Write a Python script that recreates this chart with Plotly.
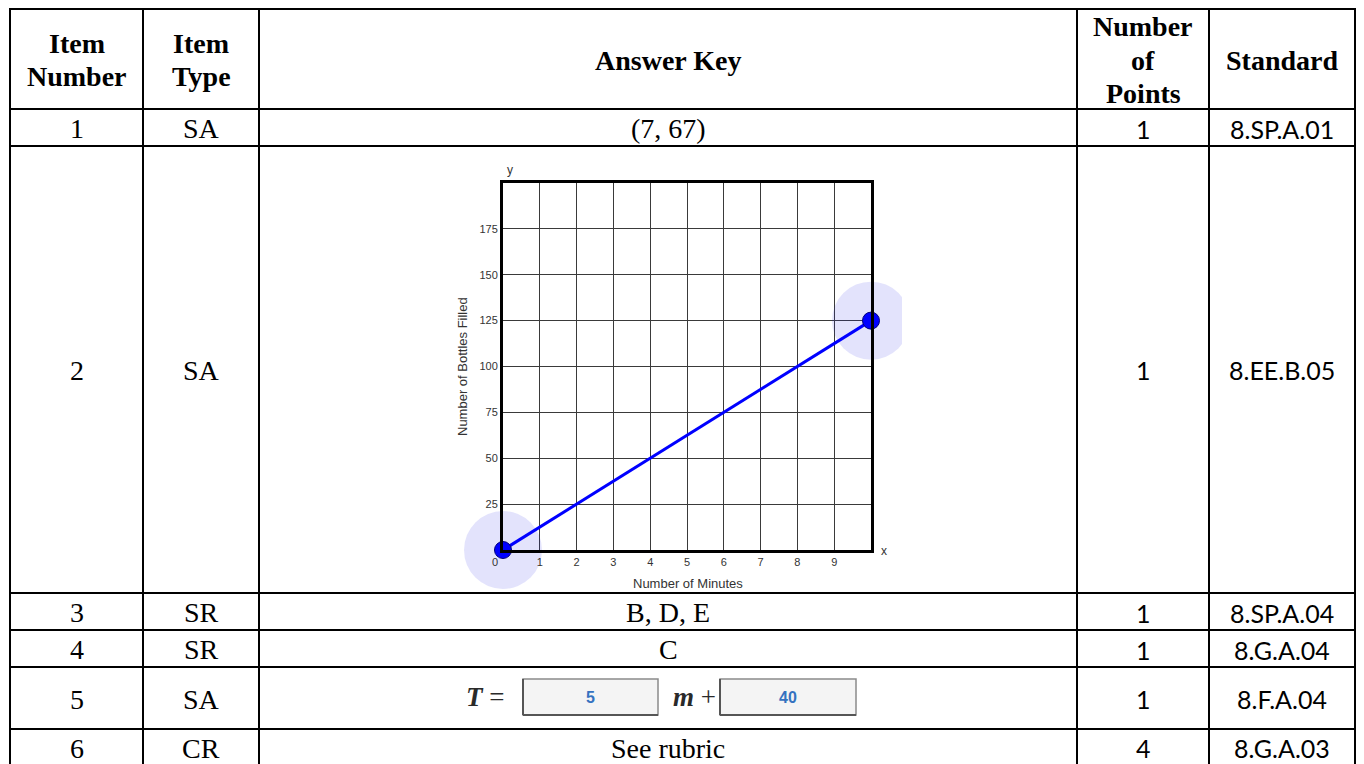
import plotly.graph_objects as go

# the page body adds an 8px margin, so the figure is drawn 8px smaller and shifted
PAGE_W, PAGE_H = 1364, 764
OFF = 8
W, H = PAGE_W - OFF, PAGE_H - OFF

# Table content
headers = [["Item", "Number"], ["Item", "Type"], ["Answer Key"], ["Number", "of", "Points"], ["Standard"]]
item_numbers = ["1", "2", "3", "4", "5", "6"]
item_types = ["SA", "SA", "SR", "SR", "SA", "CR"]
answer_keys = ["(7, 67)", "", "B, D, E", "C", "", "See rubric"]
points = ["1", "1", "1", "1", "1", "4"]
standards = ["8.SP.A.01", "8.EE.B.05", "8.SP.A.04", "8.G.A.04", "8.F.A.04", "8.G.A.03"]

# Item 2 answer graph
minutes = [0, 10]
bottles = [0, 125]
x_tick_vals = [1, 2, 3, 4, 5, 6, 7, 8, 9]
y_tick_vals = [25, 50, 75, 100, 125, 150, 175]

# Item 5 answer boxes
slope_answer = "5"
intercept_answer = "40"

# Table grid (page pixels)
col_edges = [10, 143, 259, 1077, 1209, 1355]
row_edges = [9, 109, 146, 593, 630, 667, 729, 768]

SERIF = "Liberation Serif"
SANS = "Lato"
CHART_FONT = "Liberation Sans"


def px(x):
    return (x - OFF) / W


def py(y):
    return 1 - (y - OFF) / H


fig = go.Figure()

# highlight halos around the plotted points
fig.add_trace(go.Scatter(
    x=minutes, y=bottles, mode="markers",
    marker=dict(size=78, color="rgba(40, 40, 235, 0.13)", line=dict(width=0)),
    cliponaxis=False, hoverinfo="skip", showlegend=False
))
# answer line
fig.add_trace(go.Scatter(
    x=minutes, y=bottles, mode="lines+markers",
    line=dict(color="#0000ff", width=3),
    marker=dict(size=17, color="#0000ff", line=dict(color="#00007a", width=1)),
    cliponaxis=False, showlegend=False
))

shapes = []
annotations = []

# clip the right halo like the source picture
shapes.append(dict(type="rect", xref="paper", yref="paper", layer="above",
                   x0=px(902), x1=px(925), y0=py(370), y1=py(270),
                   fillcolor="white", line=dict(width=0)))

# table lines
for x in col_edges:
    shapes.append(dict(type="line", xref="paper", yref="paper",
                       x0=px(x), x1=px(x), y0=py(row_edges[0] - 1), y1=py(row_edges[-1]),
                       line=dict(color="black", width=2)))
for y in row_edges[:-1]:
    shapes.append(dict(type="line", xref="paper", yref="paper",
                       x0=px(col_edges[0] - 1), x1=px(col_edges[-1] + 1), y0=py(y), y1=py(y),
                       line=dict(color="black", width=2)))

# header text, one line at a time
line_gap = 33
head_mid = (row_edges[0] + row_edges[1]) / 2 + 1
for i, lines in enumerate(headers):
    cx = (col_edges[i] + col_edges[i + 1]) / 2
    n = len(lines)
    for j, t in enumerate(lines):
        cy = head_mid + (j - (n - 1) / 2) * line_gap
        annotations.append(dict(x=px(cx), y=py(cy), xref="paper", yref="paper",
                                text="<b>" + t + "</b>", showarrow=False,
                                xanchor="center", yanchor="middle",
                                font=dict(family=SERIF, size=28, color="black")))

# body rows
for r in range(6):
    cy = (row_edges[r + 1] + row_edges[r + 2]) / 2 + 1
    if r == 5:
        cy = 748
    cells = [(item_numbers[r], SERIF, 28), (item_types[r], SERIF, 28), (answer_keys[r], SERIF, 28),
             (points[r], SANS, 25), (standards[r], SANS, 25)]
    for c, (t, fam, sz) in enumerate(cells):
        if not t:
            continue
        cx = (col_edges[c] + col_edges[c + 1]) / 2
        annotations.append(dict(x=px(cx), y=py(cy), xref="paper", yref="paper",
                                text=t, showarrow=False, xanchor="center", yanchor="middle",
                                font=dict(family=fam, size=sz, color="black")))

# graph labels
chart_txt = dict(family=CHART_FONT, size=13, color="#333333")
annotations += [
    dict(x=px(510), y=py(170), text="y", font=dict(family=CHART_FONT, size=12, color="#333333")),
    dict(x=px(884), y=py(551), text="x", font=dict(family=CHART_FONT, size=12, color="#333333")),
    dict(x=px(495), y=py(562), text="0", font=dict(family=CHART_FONT, size=11, color="#333333")),
    dict(x=px(688), y=py(583), text="Number of Minutes", font=chart_txt),
    dict(x=px(462), y=py(367), text="Number of Bottles Filled", textangle=-90, font=chart_txt),
]
for a in annotations[-5:]:
    a.update(xref="paper", yref="paper", showarrow=False, xanchor="center", yanchor="middle")

# item 5: T = [5] m + [40]
box_y0, box_y1 = 679, 715
eq_mid = (box_y0 + box_y1) / 2
for (x0, x1), val in [((523, 658), slope_answer), ((720, 856), intercept_answer)]:
    shapes.append(dict(type="rect", xref="paper", yref="paper",
                       x0=px(x0), x1=px(x1), y0=py(box_y1), y1=py(box_y0),
                       fillcolor="#f4f4f4", line=dict(color="#8a8a8a", width=1.5)))
    shapes.append(dict(type="line", xref="paper", yref="paper",
                       x0=px(x0), x1=px(x1), y0=py(box_y1), y1=py(box_y1),
                       line=dict(color="#555555", width=2)))
    shapes.append(dict(type="line", xref="paper", yref="paper",
                       x0=px(x0), x1=px(x0), y0=py(box_y1), y1=py(box_y0),
                       line=dict(color="#555555", width=2)))
    annotations.append(dict(x=px((x0 + x1) / 2), y=py(eq_mid), xref="paper", yref="paper",
                            text="<b>" + val + "</b>", showarrow=False,
                            xanchor="center", yanchor="middle",
                            font=dict(family=CHART_FONT, size=16, color="#3572c0")))
annotations.append(dict(x=px(485), y=py(eq_mid), xref="paper", yref="paper",
                        text="<b><i>T</i></b> =", showarrow=False, xanchor="center", yanchor="middle",
                        font=dict(family=SERIF, size=27, color="#2a2a2a")))
annotations.append(dict(x=px(694), y=py(eq_mid), xref="paper", yref="paper",
                        text="<b><i>m</i></b> +", showarrow=False, xanchor="center", yanchor="middle",
                        font=dict(family=SERIF, size=27, color="#2a2a2a")))

axis_common = dict(
    showline=True, linecolor="black", linewidth=3, mirror=True,
    showgrid=True, gridcolor="#3a3a3a", gridwidth=1.4,
    zeroline=False, ticks="", fixedrange=True,
    tickfont=dict(family=CHART_FONT, size=11, color="#333333"),
)

fig.update_layout(
    width=W, height=H,
    margin=dict(l=0, r=0, t=0, b=0),
    paper_bgcolor="white", plot_bgcolor="white",
    showlegend=False,
    xaxis=dict(domain=[px(503), px(871)], range=[0, 10], tickvals=x_tick_vals, **axis_common),
    yaxis=dict(domain=[py(550), py(183)], range=[0, 200], tickvals=y_tick_vals, **axis_common),
    shapes=shapes,
    annotations=annotations,
)

fig.write_html("out.html")
